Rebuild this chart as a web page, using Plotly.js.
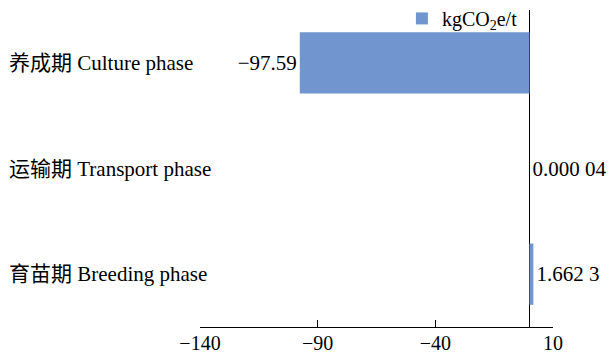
<!DOCTYPE html>
<html><head><meta charset="utf-8">
<script src="https://cdn.plot.ly/plotly-3.0.1.min.js"></script>
<style>html,body{margin:0;padding:0;background:#fff}#chart{width:612px;height:353px}</style>
</head><body><div id="chart"></div>
<script>
var categories = ["养成期 Culture phase", "运输期 Transport phase", "育苗期 Breeding phase"];
var values = [-97.59, 0.00004, 1.6623];
var valueLabels = ["\u221297.59", "0.000 04", "1.662 3"];
var tickValues = [-140, -90, -40, 10];
var seriesName = "kgCO<sub>2</sub>e/t";

var FONT = "'Liberation Serif', 'Times New Roman', 'Noto Sans CJK SC', serif";
var trace = {
  type: "bar", orientation: "h",
  x: values, y: categories,
  name: seriesName,
  marker: {color: "#7195ce"},
  width: 0.58,
  text: valueLabels,
  textposition: "outside",
  constraintext: "none",
  cliponaxis: false,
  textfont: {family: FONT, size: 21, color: "#000"},
  showlegend: true
};
var annotations = categories.map(function(c){
  return {xref: "paper", yref: "y", x: -0.547, y: c, xanchor: "left", yanchor: "middle",
    text: c, showarrow: false, font: {family: FONT, size: 21, color: "#000"}};
});
var layout = {
  width: 612, height: 353,
  margin: {l: 200, r: 59, t: 10, b: 26, autoexpand: false},
  paper_bgcolor: "#fff", plot_bgcolor: "#fff",
  showlegend: true,
  legend: {x: 0.572, y: 1.035, xanchor: "left", yanchor: "top", bgcolor: "rgba(255,255,255,0)",
    font: {family: FONT, size: 20, color: "#000"}, itemwidth: 30},
  xaxis: {range: [-140, 10], tickvals: tickValues, ticks: "inside", ticklen: 7, tickcolor: "#000",
    showline: true, linecolor: "#000", linewidth: 1, showgrid: false, zeroline: true,
    zerolinecolor: "#000", zerolinewidth: 1.5, ticklabelstandoff: -2,
    tickfont: {family: FONT, size: 20, color: "#000"}},
  yaxis: {range: [2.5, -0.5], showticklabels: false, ticks: "", showgrid: false, zeroline: false, showline: false},
  annotations: annotations
};
Plotly.newPlot("chart", [trace], layout, {staticPlot: true, displayModeBar: false});
</script></body></html>
